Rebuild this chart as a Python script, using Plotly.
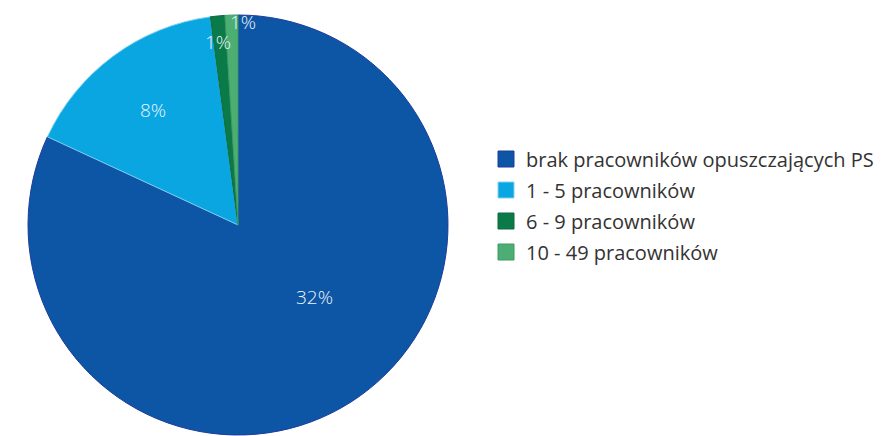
import math
import plotly.graph_objects as go

categories = ["brak pracowników opuszczających PS", "1 - 5 pracowników",
              "6 - 9 pracowników", "10 - 49 pracowników"]
shares = [81.9, 16.0, 1.1, 1.0]          # slice sizes
label_text = ["32%", "8%", "1%", "1%"]    # printed labels

# styling
colors = ["#0D55A5", "#0AA6E2", "#0A7A48", "#4CAE72"]
edge_colors = ["#1E3C9C", "#7FD3F2", "#0A6A3E", "#3E9A60"]
label_radius = [0.50, 0.68, 0.875, 0.965]   # fraction of pie radius
label_angle_shift = [-14.0, 0.0, -0.7, 3.2]  # degrees, clockwise

W, H = 886, 436
CX, CY, R = 230.0, 217.0, 210.0   # pie centre / radius in figure pixels

fig = go.Figure()
fig.add_trace(go.Pie(
    labels=categories,
    values=shares,
    textinfo="none",
    sort=False,
    direction="clockwise",
    rotation=0,
    marker=dict(colors=colors, line=dict(color=edge_colors, width=1)),
    domain=dict(x=[(CX - R) / W, (CX + R) / W],
                y=[1 - (CY + R) / H, 1 - (CY - R) / H]),
    showlegend=False,
    hoverinfo="label+percent",
))

# labels placed at each slice's angle, derived from the shares
total = sum(shares)
start = 0.0
for val, txt, rf, shift in zip(shares, label_text, label_radius, label_angle_shift):
    span = 360.0 * val / total
    mid = math.radians(start + span / 2 + shift)
    px = CX + rf * R * math.sin(mid)
    py = CY - rf * R * math.cos(mid)
    fig.add_annotation(x=px / W, y=1 - py / H, xref="paper", yref="paper",
                       xanchor="center", yanchor="middle",
                       text=txt, showarrow=False,
                       font=dict(family="Open Sans", size=19, weight=300,
                                 color="#EAF5FB"))
    start += span

# legend entries
for cat, col, edge in zip(categories, colors, edge_colors):
    fig.add_trace(go.Scatter(
        x=[None], y=[None], mode="markers", name=cat, legendgroup=cat,
        marker=dict(symbol="square", size=16, color=col,
                    line=dict(color=edge, width=1)),
        showlegend=True, hoverinfo="skip",
    ))

fig.update_layout(
    width=W, height=H,
    margin=dict(l=0, r=0, t=0, b=0),
    paper_bgcolor="white",
    plot_bgcolor="white",
    xaxis=dict(visible=False),
    yaxis=dict(visible=False),
    legend=dict(
        x=478 / W, y=0.547, xanchor="left", yanchor="middle",
        font=dict(family="Open Sans", size=20, color="#333333"),
        itemwidth=30, tracegroupgap=2, bgcolor="rgba(0,0,0,0)",
    ),
)

fig.write_html("out.html")
